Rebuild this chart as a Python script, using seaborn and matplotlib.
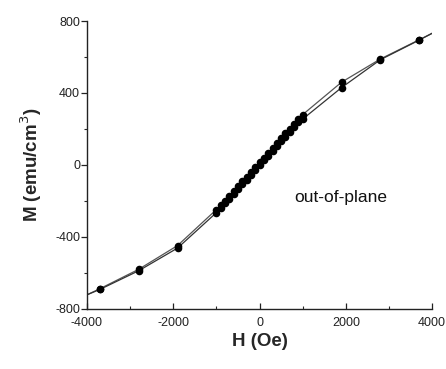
import matplotlib
matplotlib.use("Agg")
import matplotlib.pyplot as plt
from matplotlib.ticker import MultipleLocator
import numpy as np
import pandas as pd
import seaborn as sns

# Hysteresis loop, out-of-plane field
# descending branch (field swept from +H to -H)
H_down = [3700, 2800, 1900, 1000, 900, 800, 700, 600, 500, 400, 300, 200, 100, 0,
          -100, -200, -300, -400, -500, -600, -700, -800, -900, -1000, -1900, -2800, -3700]
M_down = [696, 589, 460, 280, 253, 227, 201, 175, 148, 121, 95, 68, 41, 15,
          -12, -39, -65, -92, -119, -145, -172, -198, -225, -248, -448, -580, -688]
# ascending branch (field swept from -H to +H)
H_up = [-3700, -2800, -1900, -1000, -900, -800, -700, -600, -500, -400, -300, -200, -100, 0,
        100, 200, 300, 400, 500, 600, 700, 800, 900, 1000, 1900, 2800, 3700]
M_up = [-692, -588, -462, -265, -239, -213, -187, -161, -134, -108, -81, -55, -28, -1,
        25, 52, 79, 105, 131, 157, 184, 210, 237, 255, 430, 585, 694]
# curve extension to the axis limits
H_ends = [-4000, 4000]
M_ends = [-722, 732]

x_ticks = [-4000, -2000, 0, 2000, 4000]
y_ticks = [-800, -400, 0, 400, 800]

sns.set_style("ticks")
plt.rcParams["font.family"] = ["Liberation Sans", "DejaVu Sans"]
plt.rcParams["axes.unicode_minus"] = False

fig = plt.figure(figsize=(4.46, 3.69), dpi=100)
ax = fig.add_axes([0.195, 0.163, 0.774, 0.78])

down_line = pd.DataFrame({"H": [H_ends[1]] + H_down + [H_ends[0]],
                          "M": [M_ends[1]] + M_down + [M_ends[0]]})
up_line = pd.DataFrame({"H": [H_ends[0]] + H_up + [H_ends[1]],
                        "M": [M_ends[0]] + M_up + [M_ends[1]]})
pts = pd.DataFrame({"H": H_down + H_up, "M": M_down + M_up})

sns.lineplot(data=down_line, x="H", y="M", sort=False, estimator=None,
             color="#555555", lw=0.9, ax=ax)
sns.lineplot(data=up_line, x="H", y="M", sort=False, estimator=None,
             color="#333333", lw=0.9, ax=ax)
sns.scatterplot(data=pts, x="H", y="M", color="black", s=30, linewidth=0,
                ax=ax, zorder=3)

ax.set_xlim(-4000, 4000)
ax.set_ylim(-800, 800)
ax.set_xticks(x_ticks)
ax.set_yticks(y_ticks)
ax.xaxis.set_minor_locator(MultipleLocator(1000))
ax.yaxis.set_minor_locator(MultipleLocator(200))
ax.tick_params(which="major", length=4, width=0.9,
               labelsize=9, colors="#222222")
ax.tick_params(which="minor", length=2.5, width=0.8)
ax.tick_params(axis="x", which="both", direction="in", pad=6)
ax.tick_params(axis="y", which="both", direction="out", pad=1)
sns.despine(ax=ax)
for s in ("left", "bottom"):
    ax.spines[s].set_linewidth(1.0)
    ax.spines[s].set_color("#222222")

ax.set_xlabel("H (Oe)", fontsize=13.5, fontweight="bold", labelpad=3)
ax.set_ylabel("M (emu/cm$^3$)", fontsize=13.5, fontweight="bold", labelpad=8)
ax.text(810, -182, "out-of-plane", fontsize=12.5, ha="left", va="center",
        color="#111111")

fig.savefig("out.png", dpi=100)
